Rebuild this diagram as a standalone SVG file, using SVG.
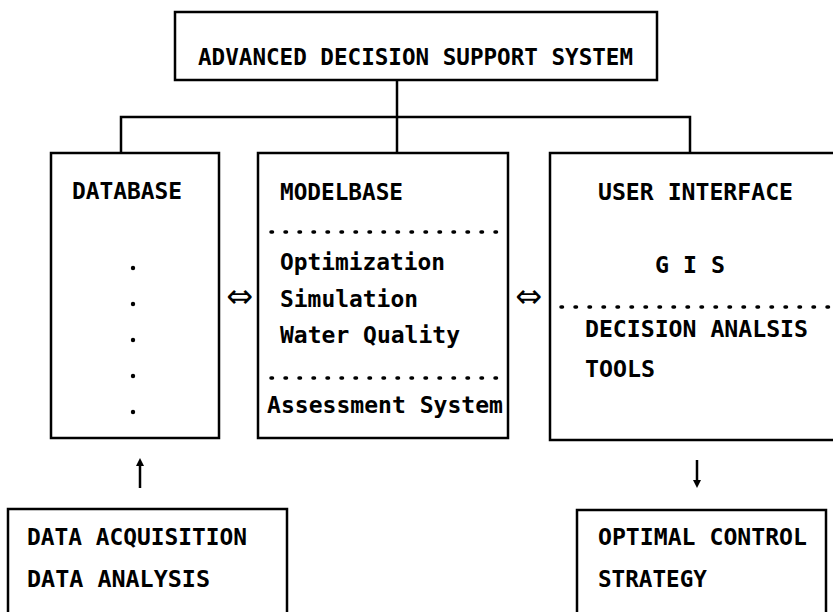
<svg xmlns="http://www.w3.org/2000/svg" width="833" height="612" viewBox="0 0 833 612">
<defs>
<style>
.box{fill:none;stroke:#000;stroke-width:2.5}
.ln{fill:none;stroke:#000;stroke-width:2.5}
.dots{fill:none;stroke:#000;stroke-width:3.5;stroke-linecap:round;stroke-dasharray:1.5 12.5}
.t{font-family:"DejaVu Sans Mono","Liberation Mono",monospace;font-weight:bold;font-size:23px;fill:#000}
.sym{font-family:"DejaVu Sans",sans-serif;font-size:32px;fill:#000;text-anchor:middle}
</style>
<marker id="ah" markerWidth="8" markerHeight="8" refX="4" refY="4" orient="auto" markerUnits="userSpaceOnUse">
<path d="M0,0 L8,4 L0,8 Z" fill="#000"/>
</marker>
</defs>
<rect width="833" height="612" fill="#fff"/>
<g id="connectors">
<polyline class="ln" points="397,80 397,153"/>
<polyline class="ln" points="121,153 121,117 690,117 690,153"/>
<text class="sym" x="240" y="307">⇔</text>
<text class="sym" x="529" y="307">⇔</text>
<line class="ln" x1="140" y1="488" x2="140" y2="462" stroke-width="2" marker-end="url(#ah)"/>
<line class="ln" x1="697" y1="460" x2="697" y2="484" stroke-width="2" marker-end="url(#ah)"/>
</g>
<g id="adss">
<rect class="box" x="175" y="12" width="482" height="68"/>
<text class="t" x="198" y="65" font-size="27" textLength="435" lengthAdjust="spacingAndGlyphs">ADVANCED DECISION SUPPORT SYSTEM</text>
</g>
<g id="database">
<rect class="box" x="51" y="153" width="168" height="285"/>
<text class="t" x="72" y="199" textLength="110" lengthAdjust="spacingAndGlyphs">DATABASE</text>
<circle cx="133" cy="268" r="2.2"/>
<circle cx="133" cy="304" r="2.2"/>
<circle cx="133" cy="340" r="2.2"/>
<circle cx="133" cy="376" r="2.2"/>
<circle cx="133" cy="412" r="2.2"/>
</g>
<g id="modelbase">
<rect class="box" x="258" y="153" width="250" height="285"/>
<text class="t" x="280" y="200" textLength="123" lengthAdjust="spacingAndGlyphs">MODELBASE</text>
<line class="dots" x1="271" y1="232" x2="499" y2="232"/>
<text class="t" x="280" y="270" textLength="165" lengthAdjust="spacingAndGlyphs">Optimization</text>
<text class="t" x="280" y="307" textLength="138" lengthAdjust="spacingAndGlyphs">Simulation</text>
<text class="t" x="280" y="343" textLength="180" lengthAdjust="spacingAndGlyphs">Water Quality</text>
<line class="dots" x1="271" y1="378" x2="499" y2="378"/>
<text class="t" x="267" y="413" textLength="236" lengthAdjust="spacingAndGlyphs">Assessment System</text>
</g>
<g id="userinterface">
<polyline class="box" points="835,153 550,153 550,440 835,440"/>
<text class="t" x="598" y="200" textLength="195" lengthAdjust="spacingAndGlyphs">USER INTERFACE</text>
<text class="t" x="655" y="273" textLength="70" lengthAdjust="spacingAndGlyphs">G I S</text>
<line class="dots" x1="561" y1="307" x2="833" y2="307"/>
<text class="t" x="585" y="337" textLength="223" lengthAdjust="spacingAndGlyphs">DECISION ANALSIS</text>
<text class="t" x="585" y="377" textLength="70" lengthAdjust="spacingAndGlyphs">TOOLS</text>
</g>
<g id="dataacq">
<rect class="box" x="8" y="509" width="279" height="120"/>
<text class="t" x="27" y="545" textLength="220" lengthAdjust="spacingAndGlyphs">DATA ACQUISITION</text>
<text class="t" x="27" y="587" textLength="183" lengthAdjust="spacingAndGlyphs">DATA ANALYSIS</text>
</g>
<g id="optimal">
<rect class="box" x="577" y="510" width="249" height="120"/>
<text class="t" x="598" y="545" textLength="209" lengthAdjust="spacingAndGlyphs">OPTIMAL CONTROL</text>
<text class="t" x="598" y="587" textLength="109" lengthAdjust="spacingAndGlyphs">STRATEGY</text>
</g>
</svg>
